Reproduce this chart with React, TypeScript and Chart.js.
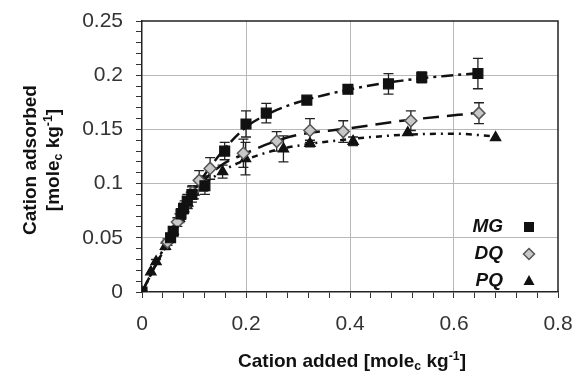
import React, { useEffect, useRef } from "react";
import { Chart, registerables } from "chart.js";

Chart.register(...registerables);

// ---- measured points ----
const mgX = [0, 0.055, 0.06, 0.075, 0.08, 0.087, 0.096, 0.121, 0.159, 0.2, 0.239, 0.317, 0.396, 0.474, 0.538, 0.646];
const mgY = [0, 0.05, 0.056, 0.072, 0.077, 0.084, 0.09, 0.098, 0.13, 0.155, 0.165, 0.177, 0.187, 0.192, 0.198, 0.2015];
const mgErr = [0, 0.004, 0.004, 0.005, 0.005, 0.006, 0.007, 0.008, 0.008, 0.012, 0.009, 0.003, 0.003, 0.0095, 0.005, 0.014];

const dqX = [0, 0.049, 0.068, 0.082, 0.097, 0.11, 0.131, 0.195, 0.259, 0.323, 0.387, 0.517, 0.648];
const dqY = [0, 0.046, 0.0645, 0.079, 0.092, 0.103, 0.114, 0.128, 0.139, 0.149, 0.148, 0.158, 0.165];
const dqErr = [0, 0.003, 0.004, 0.005, 0.006, 0.009, 0.01, 0.013, 0.009, 0.011, 0.01, 0.009, 0.0096];

const pqX = [0, 0.017, 0.027, 0.045, 0.06, 0.072, 0.088, 0.1, 0.118, 0.155, 0.199, 0.272, 0.323, 0.406, 0.511, 0.68];
const pqY = [0, 0.0186, 0.028, 0.042, 0.056, 0.068, 0.082, 0.092, 0.1, 0.111, 0.123, 0.132, 0.137, 0.139, 0.147, 0.1425];
const pqErr = [0, 0, 0.002, 0.003, 0.003, 0.004, 0.005, 0.006, 0.007, 0.006, 0.015, 0.012, 0.003, 0.004, 0, 0];

// ---- fitted curves ----
const mgFitX = [0, 0.05, 0.1, 0.15, 0.2, 0.25, 0.3, 0.4, 0.5, 0.6, 0.65];
const mgFitY = [0, 0.048, 0.093, 0.127, 0.152, 0.166, 0.175, 0.187, 0.195, 0.2, 0.202];
const dqFitX = [0, 0.05, 0.1, 0.15, 0.2, 0.25, 0.3, 0.4, 0.5, 0.6, 0.64];
const dqFitY = [0, 0.047, 0.092, 0.116, 0.128, 0.138, 0.145, 0.151, 0.158, 0.163, 0.165];
const pqFitX = [0, 0.05, 0.1, 0.15, 0.2, 0.25, 0.3, 0.4, 0.5, 0.6, 0.68];
const pqFitY = [0, 0.046, 0.089, 0.11, 0.122, 0.13, 0.135, 0.141, 0.145, 0.146, 0.1435];

const seriesNames = ["MG", "DQ", "PQ"];
const xMajorTicks = [0, 0.2, 0.4, 0.6, 0.8];
const yMajorTicks = [0, 0.05, 0.1, 0.15, 0.2, 0.25];

const FONT = "'Liberation Sans', Arial, Helvetica, sans-serif";

const isIn = (v: number, list: number[]) => list.some((t) => Math.abs(t - v) < 1e-6);
const fmt = (v: number) => String(Math.round(v * 100) / 100);
const pts = (xs: number[], ys: number[]) => xs.map((x, i) => ({ x, y: ys[i] }));

const errorBarPlugin = {
  id: "errorBars",
  beforeDatasetsDraw(chart: any) {
    const { ctx, scales } = chart;
    const x = scales.x, y = scales.y;
    chart.data.datasets.forEach((ds: any) => {
      if (!ds.errors) return;
      ds.data.forEach((p: any, i: number) => {
        const e = ds.errors[i];
        if (!e) return;
        const px = x.getPixelForValue(p.x);
        const t = y.getPixelForValue(p.y + e);
        const b = y.getPixelForValue(p.y - e);
        ctx.save();
        ctx.setLineDash([]);
        ctx.strokeStyle = "#222";
        ctx.lineWidth = 1.3;
        ctx.beginPath();
        ctx.moveTo(px, t);
        ctx.lineTo(px, b);
        ctx.moveTo(px - 5, t);
        ctx.lineTo(px + 5, t);
        ctx.moveTo(px - 5, b);
        ctx.lineTo(px + 5, b);
        ctx.stroke();
        ctx.restore();
      });
    });
  },
};

const framePlugin = {
  id: "frame",
  afterDraw(chart: any) {
    const { ctx, chartArea: a } = chart;
    ctx.save();
    ctx.strokeStyle = "#222";
    ctx.lineWidth = 1.5;
    ctx.setLineDash([]);
    ctx.beginPath();
    ctx.moveTo(a.left, a.top);
    ctx.lineTo(a.right, a.top);
    ctx.lineTo(a.right, a.bottom);
    ctx.stroke();
    ctx.restore();
  },
};

const legendPlugin = {
  id: "customLegend",
  afterDraw(chart: any) {
    const { ctx } = chart;
    const rows = [227, 254, 281];
    ctx.save();
    ctx.font = `italic bold 19px ${FONT}`;
    ctx.textAlign = "right";
    ctx.textBaseline = "middle";
    seriesNames.forEach((name, i) => {
      const yy = rows[i];
      ctx.fillStyle = "#111";
      ctx.fillText(name, 503, yy);
      const mx = 529;
      ctx.setLineDash([]);
      if (i === 0) {
        ctx.fillRect(mx - 5, yy - 5, 10, 10);
      } else if (i === 1) {
        ctx.beginPath();
        ctx.moveTo(mx, yy - 5.5);
        ctx.lineTo(mx + 5.5, yy);
        ctx.lineTo(mx, yy + 5.5);
        ctx.lineTo(mx - 5.5, yy);
        ctx.closePath();
        ctx.fillStyle = "#c8c8c8";
        ctx.fill();
        ctx.strokeStyle = "#555";
        ctx.lineWidth = 1.5;
        ctx.stroke();
      } else {
        ctx.beginPath();
        ctx.moveTo(mx, yy - 6);
        ctx.lineTo(mx + 5.5, yy + 4);
        ctx.lineTo(mx - 5.5, yy + 4);
        ctx.closePath();
        ctx.fill();
      }
    });
    ctx.restore();
  },
};

export default function App() {
  const ref = useRef<HTMLCanvasElement | null>(null);

  useEffect(() => {
    if (!ref.current) return;
    const fitLine = {
      showLine: true,
      borderColor: "#111",
      borderWidth: 2.5,
      cubicInterpolationMode: "monotone",
      pointRadius: 0,
      order: 5,
    };
    const marks = { showLine: false, pointBorderWidth: 1.2, order: 1 };
    const chart = new Chart(ref.current, {
      type: "scatter",
      data: {
        datasets: [
          { ...fitLine, label: "MG fit", data: pts(mgFitX, mgFitY), borderDash: [12, 5, 3, 5] },
          { ...fitLine, label: "DQ fit", data: pts(dqFitX, dqFitY), borderDash: [16, 8] },
          { ...fitLine, label: "PQ fit", data: pts(pqFitX, pqFitY), borderDash: [6, 5, 2, 5] },
          {
            ...marks,
            label: seriesNames[0],
            data: pts(mgX, mgY),
            errors: mgErr,
            pointStyle: "rect",
            pointRadius: 7,
            pointBackgroundColor: "#111",
            pointBorderColor: "#111",
          },
          {
            ...marks,
            label: seriesNames[1],
            data: pts(dqX, dqY),
            errors: dqErr,
            pointStyle: "rectRot",
            pointRadius: 6,
            pointBackgroundColor: "#c8c8c8",
            pointBorderColor: "#555",
            pointBorderWidth: 1.5,
          },
          {
            ...marks,
            label: seriesNames[2],
            data: pts(pqX, pqY),
            errors: pqErr,
            pointStyle: "triangle",
            pointRadius: 6,
            pointBackgroundColor: "#111",
            pointBorderColor: "#111",
          },
        ] as any,
      },
      options: {
        animation: false,
        responsive: false,
        layout: { padding: { top: 21, right: 18, left: 0, bottom: 0 } },
        plugins: { legend: { display: false }, tooltip: { enabled: false } },
        scales: {
          x: {
            type: "linear",
            min: 0,
            max: 0.8,
            afterFit: (s: any) => {
              s.height = 79;
              s.paddingLeft = 0;
              s.paddingRight = 0;
            },
            ticks: {
              stepSize: 0.04,
              autoSkip: false,
              maxRotation: 0,
              padding: 14,
              color: "#333",
              font: { size: 21, family: FONT },
              callback: (v: any) => (isIn(Number(v), xMajorTicks) ? fmt(Number(v)) : ""),
            },
            grid: {
              color: (c: any) => {
                const v = c.tick ? c.tick.value : -1;
                return isIn(v, xMajorTicks) && v > 0 && v < 0.8 ? "#b8b8b8" : "rgba(0,0,0,0)";
              },
              tickColor: "#333",
              tickLength: 6,
              lineWidth: 1,
            },
            border: { display: true, color: "#222", width: 1.5 },
          },
          y: {
            type: "linear",
            min: 0,
            max: 0.25,
            afterFit: (s: any) => {
              s.width = 142;
              s.paddingTop = 0;
              s.paddingBottom = 0;
            },
            ticks: {
              stepSize: 0.01,
              autoSkip: false,
              padding: 13,
              color: "#333",
              font: { size: 21, family: FONT },
              callback: (v: any) => (isIn(Number(v), yMajorTicks) ? fmt(Number(v)) : ""),
            },
            grid: {
              color: (c: any) => {
                const v = c.tick ? c.tick.value : -1;
                return isIn(v, yMajorTicks) && v > 0 && v < 0.25 ? "#b8b8b8" : "rgba(0,0,0,0)";
              },
              tickColor: "#333",
              tickLength: 6,
              lineWidth: 1,
            },
            border: { display: true, color: "#222", width: 1.5 },
          },
        },
      } as any,
      plugins: [errorBarPlugin, framePlugin, legendPlugin],
    });
    return () => chart.destroy();
  }, []);

  const titleStyle: React.CSSProperties = {
    position: "absolute",
    fontFamily: FONT,
    fontWeight: "bold",
    fontSize: 19,
    color: "#111",
    textAlign: "center",
    whiteSpace: "nowrap",
  };
  const sub: React.CSSProperties = { fontSize: "0.65em", verticalAlign: "-0.25em", lineHeight: 0 };
  const sup: React.CSSProperties = { fontSize: "0.65em", verticalAlign: "0.55em", lineHeight: 0 };

  return (
    <div style={{ position: "absolute", left: 0, top: 0, width: 576, height: 371, background: "#fff" }}>
      <canvas ref={ref} width={576} height={371} style={{ display: "block" }} />
      <div
        style={{
          ...titleStyle,
          left: -84,
          top: 137,
          width: 250,
          height: 46,
          lineHeight: "23px",
          transform: "rotate(-90deg)",
          transformOrigin: "50% 50%",
        }}
      >
        <div>Cation adsorbed</div>
        <div>
          [mole<span style={sub}>c</span> kg<span style={sup}>-1</span>]
        </div>
      </div>
      <div style={{ ...titleStyle, left: 152, top: 350, width: 400, lineHeight: "22px" }}>
        Cation added [mole<span style={sub}>c</span> kg<span style={sup}>-1</span>]
      </div>
    </div>
  );
}
